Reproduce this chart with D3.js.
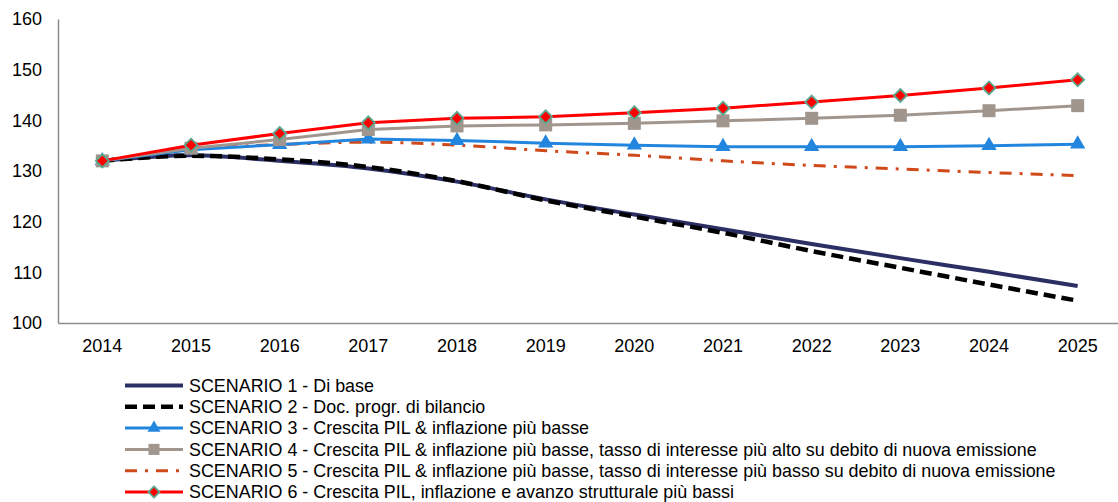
<!DOCTYPE html>
<html>
<head>
<meta charset="utf-8">
<script src="https://cdn.jsdelivr.net/npm/d3@7"></script>
<style>
  body { margin: 0; background: #fff; }
  svg { display: block; font-family: "Liberation Sans", Arial, sans-serif; }
</style>
</head>
<body>
<div id="chart"></div>
<script>
// years on the x axis
const years = ['2014', '2015', '2016', '2017', '2018', '2019', '2020', '2021', '2022', '2023', '2024', '2025'];
const yTicks = [100, 110, 120, 130, 140, 150, 160];

// debt / GDP paths, one per scenario
const scenario1 = [132, 133.1, 132.0, 130.5, 127.9, 124.4, 121.4, 118.5, 115.6, 112.8, 110.1, 107.3];
const scenario2 = [132, 133.0, 132.3, 130.8, 128.0, 124.2, 121.0, 117.8, 114.2, 110.9, 107.6, 104.4];
const scenario3 = [132, 134.2, 135.2, 136.3, 136.0, 135.5, 135.1, 134.8, 134.8, 134.8, 135.0, 135.3];
const scenario4 = [132, 134.5, 136.2, 138.2, 138.9, 139.1, 139.4, 139.9, 140.4, 141.0, 141.9, 142.9];
const scenario5 = [132, 134.3, 135.2, 135.7, 135.1, 134.0, 133.1, 132.0, 131.1, 130.4, 129.7, 129.1];
const scenario6 = [132, 135.1, 137.4, 139.5, 140.4, 140.7, 141.5, 142.4, 143.6, 144.9, 146.4, 148.0];

const labels = [
  'SCENARIO 1 - Di base',
  'SCENARIO 2 - Doc. progr. di bilancio',
  'SCENARIO 3 - Crescita PIL & inflazione più basse',
  'SCENARIO 4 - Crescita PIL & inflazione più basse, tasso di interesse più alto su debito di nuova emissione',
  'SCENARIO 5 - Crescita PIL & inflazione più basse, tasso di interesse più basso su debito di nuova emissione',
  'SCENARIO 6 - Crescita PIL, inflazione e avanzo strutturale più bassi',
];

const width = 1118;
const height = 502;

// draw order: markers series on top of the two declining lines
const series = [
  { values: scenario5, color: '#d0491a', width: 3, dash: '12,8,3,8', marker: null, curve: d3.curveMonotoneX },
  { values: scenario1, color: '#2c2f63', width: 4, dash: null, marker: null, curve: d3.curveMonotoneX },
  { values: scenario2, color: '#000000', width: 4.5, dash: '12,6', marker: null, curve: d3.curveMonotoneX },
  { values: scenario3, color: '#2386de', width: 3, dash: null, marker: 'triangle', curve: d3.curveLinear },
  { values: scenario4, color: '#a1968e', width: 3, dash: null, marker: 'square', curve: d3.curveLinear },
  { values: scenario6, color: '#ff0000', width: 3, dash: null, marker: 'diamond', curve: d3.curveLinear },
];
const legendOrder = [1, 2, 3, 4, 0, 5];

const x = d3.scaleBand().domain(years).range([58, 1122]);
const y = d3.scaleLinear().domain([100, 160]).range([323, 19]);
const cx = (d) => x(d) + x.bandwidth() / 2;

const svg = d3.select('#chart')
  .append('svg')
  .attr('width', width)
  .attr('height', height);

// axes
svg.append('g')
  .attr('transform', 'translate(58,0)')
  .call(d3.axisLeft(y).tickValues(yTicks).tickSize(0).tickPadding(16))
  .call((g) => g.select('.domain').attr('stroke', '#8c8c8c').attr('stroke-width', 1.5))
  .call((g) => g.selectAll('text').attr('font-size', 18).attr('fill', '#000').attr('font-family', null));

svg.append('g')
  .attr('transform', 'translate(0,323)')
  .call(d3.axisBottom(x).tickSize(0).tickPadding(16))
  .call((g) => g.select('.domain').attr('stroke', '#8c8c8c').attr('stroke-width', 1.5))
  .call((g) => g.selectAll('text').attr('font-size', 18).attr('fill', '#000').attr('font-family', null));

function drawMarker(sel, type, color, size) {
  if (type === 'triangle') {
    sel.append('path')
      .attr('d', d3.symbol(d3.symbolTriangle, size * size * 0.45)())
      .attr('fill', color);
  } else if (type === 'square') {
    sel.append('rect')
      .attr('x', -size / 2).attr('y', -size / 2)
      .attr('width', size).attr('height', size)
      .attr('fill', color);
  } else if (type === 'diamond') {
    const r = size / 2;
    sel.append('path')
      .attr('d', `M0,${-r}L${r},0L0,${r}L${-r},0Z`)
      .attr('fill', '#ff0000')
      .attr('stroke', '#5aa88f')
      .attr('stroke-width', 1.8);
  }
}

const markerSize = { triangle: 15, square: 13, diamond: 13 };

series.forEach((s) => {
  const line = d3.line()
    .x((d, i) => cx(years[i]))
    .y((d) => y(d))
    .curve(s.curve);
  svg.append('path')
    .datum(s.values)
    .attr('fill', 'none')
    .attr('stroke', s.color)
    .attr('stroke-width', s.width)
    .attr('stroke-dasharray', s.dash)
    .attr('d', line);
  if (s.marker) {
    svg.append('g')
      .selectAll('g')
      .data(s.values)
      .join('g')
      .attr('transform', (d, i) => `translate(${cx(years[i])},${y(d)})`)
      .each(function () { drawMarker(d3.select(this), s.marker, s.color, markerSize[s.marker]); });
  }
});

// legend
const legend = svg.append('g');
legendOrder.forEach((k, row) => {
  const s = series[k];
  const ly = 385.5 + row * 21.3;
  const item = legend.append('g').attr('transform', `translate(0,${ly})`);
  item.append('line')
    .attr('x1', 125).attr('x2', 183)
    .attr('stroke', s.color)
    .attr('stroke-width', s.width)
    .attr('stroke-dasharray', s.dash);
  if (s.marker) {
    const m = item.append('g').attr('transform', 'translate(154,0)');
    drawMarker(m, s.marker, s.color, markerSize[s.marker] * 0.85);
  }
  item.append('text')
    .attr('x', 189)
    .attr('dy', '0.35em')
    .attr('font-size', 17.9)
    .text(labels[row]);
});
</script>
</body>
</html>
